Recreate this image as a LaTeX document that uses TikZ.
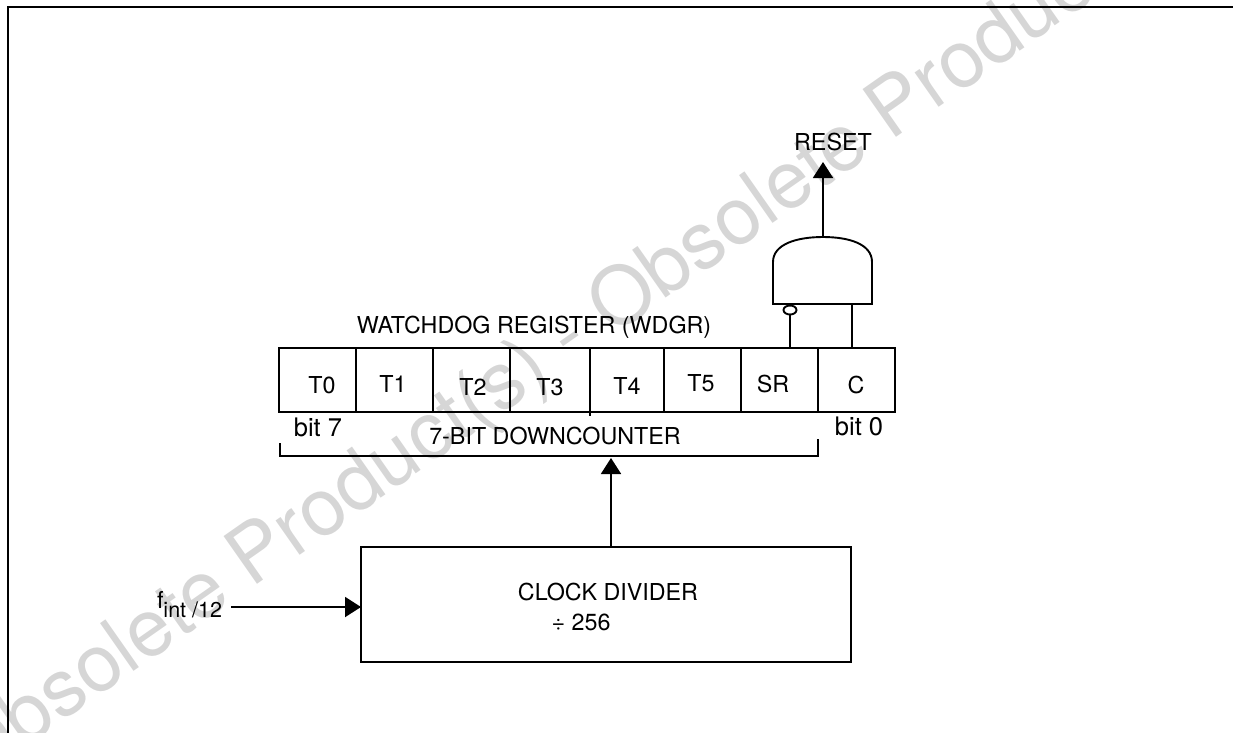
\documentclass[tikz,border=0pt]{standalone}
\usepackage{fontspec}
\setmainfont{TeX Gyre Heros}
\usetikzlibrary{arrows.meta}
\usetikzlibrary{shapes.geometric}
\definecolor{stampgray}{gray}{0.84}

\begin{document}
\begin{tikzpicture}[x=1pt, y=-1pt, >={Triangle[length=16pt,width=20pt]}, line width=1.9pt, font=\fontsize{23.3}{27}\selectfont]
        \tikzstyle{every node}=[inner sep=0pt, outer sep=0pt]
        \tikzstyle{cell}=[draw=black, rectangle, minimum height=64pt]
        \tikzstyle{block}=[draw=black, rectangle]
        \tikzstyle{bitlabel}=[font=\fontsize{25.5}{27}\selectfont]
        \tikzstyle{stamptext}=[text=stampgray, font=\fontsize{80}{80}\selectfont, rotate=35, anchor=base west]

        \useasboundingbox (0,0) rectangle (1233,732);

        % watermark
        \node[stamptext] (stamp) at (-27,784) {Obsolete Product(s) - Obsolete Product(s)};

        % frame
        \coordinate (frameA) at (8,733);
        \coordinate (frameB) at (8,7);
        \coordinate (frameC) at (1234,7);
        \draw[line width=2.5pt] (frameA) -- (frameB) -- (frameC);

        % register
        \node[cell, minimum width=77pt] (T0) at (317.5,380) {};
        \node[cell, minimum width=77pt] (T1) at (394.5,380) {};
        \node[cell, minimum width=77pt] (T2) at (471.5,380) {};
        \node[cell, minimum width=80pt] (T3) at (550,380) {};
        \node[cell, minimum width=74pt] (T4) at (627,380) {};
        \node[cell, minimum width=77pt] (T5) at (702.5,380) {};
        \node[cell, minimum width=77pt] (SR) at (779.5,380) {};
        \node[cell, minimum width=77pt] (C) at (856.5,380) {};

        \node (T0text) at (322,385) {T0};
        \node (T1text) at (393,384) {T1};
        \node (T2text) at (473,387) {T2};
        \node (T3text) at (550,387) {T3};
        \node (T4text) at (627,386) {T4};
        \node (T5text) at (701,383) {T5};
        \node (SRtext) at (773,384) {SR};
        \node (Ctext) at (856,385) {C};

        \node (title) at (534,327) {WATCHDOG REGISTER (WDGR)};
        \node[bitlabel] (bit7) at (318,427) {bit 7};
        \node[bitlabel] (bit0) at (859,426) {bit 0};
        \node (count) at (555,436) {7-BIT DOWNCOUNTER};

        % bracket under the counter bits
        \coordinate (tick) at (590,416);
        \coordinate (brA) at (280,443);
        \coordinate (brB) at (280,456);
        \coordinate (brC) at (818,456);
        \coordinate (brD) at (818,439);
        \coordinate (brIn) at (611,458);
        \draw (T4.south west) -- (tick);
        \draw (brA) -- (brB) -- (brC) -- (brD);

        % divider
        \node[block, minimum width=490pt, minimum height=115pt] (divider) at (606,604.5) {};
        \node (divtext) at (608,592) {CLOCK DIVIDER};
        \node (divnum) at (581,622) {÷ 256};
        \node[anchor=base west] (fint) at (157,608) {f\raisebox{-9pt}{\fontsize{21.5}{21.5}\selectfont int /12}};
        \coordinate (fout) at (231,607);

        \path[->] (fout) edge (fout -| divider.west)
                  (divider.north -| brIn) edge (brIn);

        % gate
        \coordinate (gateA) at (773,304);
        \coordinate (gateB) at (773,262);
        \coordinate (gateC) at (823,237);
        \coordinate (gateD) at (872,262);
        \coordinate (gateE) at (872,304);
        \coordinate (gateIn) at (852,304);
        \coordinate (resetIn) at (823,162);
        \draw (gateA) -- (gateB) .. controls (773,244) and (797,237) .. (gateC) .. controls (849,237) and (872,244) .. (gateD) -- (gateE) -- cycle;
        \node[draw=black, ellipse, minimum width=13pt, minimum height=9pt] (bubble) at (790,310) {};
        \node (reset) at (833,142) {RESET};

        \path (bubble.south) edge (bubble.south |- SR.north)
              (gateIn) edge (gateIn |- C.north);
        \path[->] (gateC) edge (resetIn);
\end{tikzpicture}
\end{document}
